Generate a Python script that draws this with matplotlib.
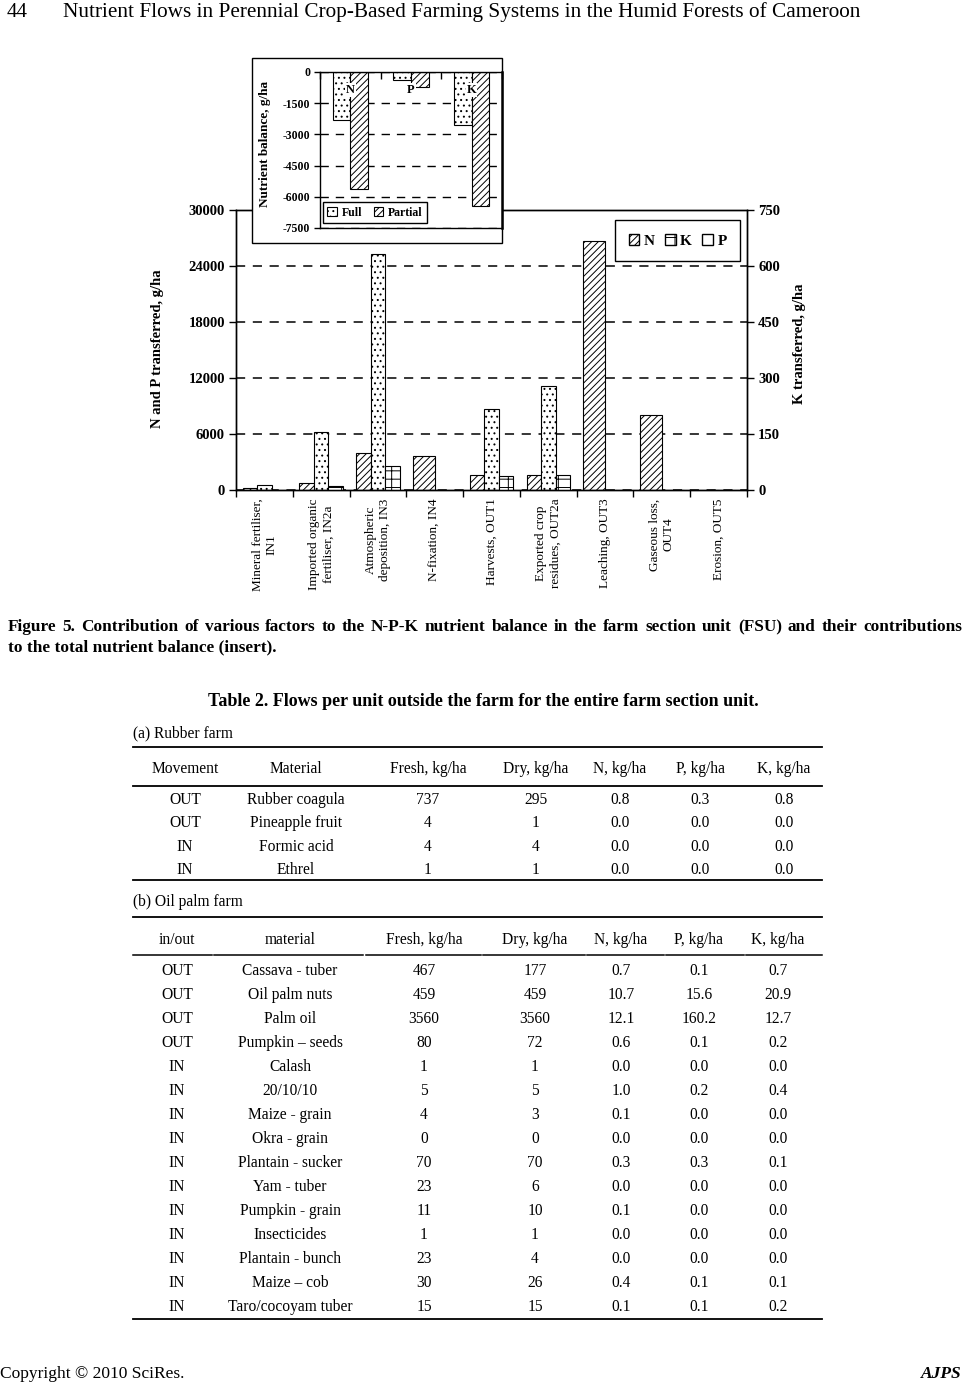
import matplotlib

matplotlib.use("Agg")
import matplotlib.pyplot as plt
import numpy as np
from matplotlib.lines import Line2D
from matplotlib.patches import Patch, Rectangle

W, H = 965, 1386

# Figure 5 - nutrient flows in the farm section unit, g/ha
categories = [
    "Mineral fertiliser,\nIN1",
    "Imported organic\nfertiliser, IN2a",
    "Atmospheric\ndeposition, IN3",
    "N-fixation, IN4",
    "Harvests, OUT1",
    "Exported crop\nresidues, OUT2a",
    "Leaching, OUT3",
    "Gaseous loss,\nOUT4",
    "Erosion, OUT5",
]
n_flow = [240, 780, 3940, 3620, 1620, 1620, 26720, 8030, 0]
p_flow = [530, 6260, 25250, 0, 8660, 11090, 0, 0, 0]
k_flow = [0, 10.5, 64, 0, 38, 40, 0, 0, 0]

left_ticks = [0, 6000, 12000, 18000, 24000, 30000]
right_ticks = [0, 150, 300, 450, 600, 750]

# insert: total nutrient balance, g/ha
balance_nutrients = ["N", "P", "K"]
balance_full = [-2300, -370, -2560]
balance_partial = [-5630, -730, -6420]
balance_ticks = [0, -1500, -3000, -4500, -6000, -7500]

# Table 2
table_a_header = ["Movement", "Material", "Fresh, kg/ha", "Dry, kg/ha",
                  "N, kg/ha", "P, kg/ha", "K, kg/ha"]
table_a_rows = [
    ["OUT", "Rubber coagula", "737", "295", "0.8", "0.3", "0.8"],
    ["OUT", "Pineapple fruit", "4", "1", "0.0", "0.0", "0.0"],
    ["IN", "Formic acid", "4", "4", "0.0", "0.0", "0.0"],
    ["IN", "Ethrel", "1", "1", "0.0", "0.0", "0.0"],
]
table_b_header = ["in/out", "material", "Fresh, kg/ha", "Dry, kg/ha",
                  "N, kg/ha", "P, kg/ha", "K, kg/ha"]
table_b_rows = [
    ["OUT", "Cassava - tuber", "467", "177", "0.7", "0.1", "0.7"],
    ["OUT", "Oil palm nuts", "459", "459", "10.7", "15.6", "20.9"],
    ["OUT", "Palm oil", "3560", "3560", "12.1", "160.2", "12.7"],
    ["OUT", "Pumpkin \u2013 seeds", "80", "72", "0.6", "0.1", "0.2"],
    ["IN", "Calash", "1", "1", "0.0", "0.0", "0.0"],
    ["IN", "20/10/10", "5", "5", "1.0", "0.2", "0.4"],
    ["IN", "Maize - grain", "4", "3", "0.1", "0.0", "0.0"],
    ["IN", "Okra - grain", "0", "0", "0.0", "0.0", "0.0"],
    ["IN", "Plantain - sucker", "70", "70", "0.3", "0.3", "0.1"],
    ["IN", "Yam - tuber", "23", "6", "0.0", "0.0", "0.0"],
    ["IN", "Pumpkin - grain", "11", "10", "0.1", "0.0", "0.0"],
    ["IN", "Insecticides", "1", "1", "0.0", "0.0", "0.0"],
    ["IN", "Plantain - bunch", "23", "4", "0.0", "0.0", "0.0"],
    ["IN", "Maize \u2013 cob", "30", "26", "0.4", "0.1", "0.1"],
    ["IN", "Taro/cocoyam tuber", "15", "15", "0.1", "0.1", "0.2"],
]

plt.rcParams["font.family"] = ["Liberation Serif", "DejaVu Serif"]
plt.rcParams["hatch.linewidth"] = 0.7
plt.rcParams["axes.unicode_minus"] = False


def fx(x):
    return x / W


def fy(y):
    return 1 - y / H


def hline(fig, x0, x1, y, lw=1.0):
    fig.add_artist(Line2D([fx(x0), fx(x1)], [fy(y), fy(y)], color="black",
                          lw=lw, transform=fig.transFigure))


def cell(fig, x, y, txt, ha="center", **kw):
    fig.text(fx(x), fy(y), txt, ha=ha, va="center_baseline", **kw)


def justified(fig, text, x0, x1, y, **kw):
    words = text.split()
    arts = [fig.text(0, fy(y), w, va="center_baseline", ha="left", **kw)
            for w in words]
    r = fig.canvas.get_renderer()
    widths = [a.get_window_extent(r).width for a in arts]
    gap = (x1 - x0 - sum(widths)) / (len(words) - 1)
    x = x0
    for a, w in zip(arts, widths):
        a.set_x(fx(x))
        x += w + gap


fig = plt.figure(figsize=(W / 100, H / 100), dpi=100)

# ---- main chart ----
ax = fig.add_axes([fx(236), fy(490), (747 - 236) / W, (490 - 210) / H])
ax2 = ax.twinx()
ax2.set_zorder(1)

bw = 0.255
xc = np.arange(len(categories)) + 0.5
solo = [p == 0 and k == 0 for p, k in zip(p_flow, k_flow)]
n_width = [bw * 1.5 if s else bw for s in solo]
ax.bar(xc - 1.5 * bw, n_flow, width=n_width, align="edge", facecolor="white",
       edgecolor="black", hatch="/////", lw=0.8, zorder=2)
ax.bar(xc - 0.5 * bw, p_flow, width=bw, align="edge", facecolor="white",
       edgecolor="black", hatch="...", lw=0.8, zorder=2)
ax2.bar(xc + 0.5 * bw, k_flow, width=bw, align="edge", facecolor="white",
        edgecolor="black", hatch="-+", lw=0.8, zorder=2)

ax.set_xlim(0, len(categories))
ax.set_ylim(0, 30000)
ax2.set_ylim(0, 750)
ax.set_yticks(left_ticks)
ax2.set_yticks(right_ticks)
ax.set_xticks(range(len(categories) + 1))
ax.set_xticklabels([])
ax.set_xticks(xc, categories, minor=True)
ax.tick_params(axis="x", which="major", direction="out", length=5, width=1)
ax.tick_params(axis="x", which="minor", length=0, pad=6, labelsize=9.5,
               labelrotation=90)
for t in ax.get_xticklabels(minor=True):
    t.set_multialignment("center")
    t.set_linespacing(1.25)
ax.tick_params(axis="y", direction="out", length=5, width=1, labelsize=10.5, pad=3)
ax2.tick_params(axis="y", direction="out", length=5, width=1, labelsize=10.5, pad=3)
for t in ax.get_yticklabels() + ax2.get_yticklabels():
    t.set_fontweight("bold")
ax.yaxis.grid(True, color="black", lw=1.1, ls=(0, (6, 5)))
ax.set_axisbelow(True)
for a in (ax, ax2):
    for s in a.spines.values():
        s.set_linewidth(1.0)

fig.text(fx(158), fy(349), "N and P transferred, g/ha", rotation=90,
         ha="center", va="center", fontsize=10.5, fontweight="bold")
fig.text(fx(800), fy(344), "K transferred, g/ha", rotation=90,
         ha="center", va="center", fontsize=10.5, fontweight="bold")

handles = [
    Patch(facecolor="white", edgecolor="black", hatch="/////", label="N"),
    Patch(facecolor="white", edgecolor="black", hatch="-+", label="K"),
    Patch(facecolor="white", edgecolor="black", label="P"),
]
leg = ax2.legend(handles=handles, ncol=3, loc="upper right",
                 bbox_to_anchor=(0.987, 0.964), frameon=True, fancybox=False,
                 edgecolor="black", framealpha=1, borderaxespad=0,
                 prop={"weight": "bold", "size": 11}, handlelength=0.7,
                 handleheight=0.7, handletextpad=0.3, columnspacing=0.65,
                 borderpad=0.9)
leg.get_frame().set_linewidth(1.0)

# ---- insert: nutrient balance ----
fig.add_artist(Rectangle((fx(252), fy(243)), (502 - 252) / W, (243 - 58) / H,
                         transform=fig.transFigure, facecolor="white",
                         edgecolor="black", lw=1.0, zorder=2))
axi = fig.add_axes([fx(320), fy(228), (502 - 320) / W, (228 - 72) / H], zorder=3)
wi = 0.29
xi = np.arange(len(balance_nutrients))
axi.bar(xi - wi / 2, balance_full, wi, facecolor="white", edgecolor="black",
        hatch="...", lw=0.8, zorder=2, label="Full")
axi.bar(xi + wi / 2, balance_partial, wi, facecolor="white", edgecolor="black",
        hatch="/////", lw=0.8, zorder=2, label="Partial")
for i, name in enumerate(balance_nutrients):
    axi.text(i, -870, name, ha="center", va="center", fontsize=9,
             fontweight="bold", zorder=3,
             bbox=dict(facecolor="white", edgecolor="none", pad=0.6))
axi.set_xlim(-0.5, len(balance_nutrients) - 0.5)
axi.set_ylim(-7500, 0)
axi.set_yticks(balance_ticks)
axi.xaxis.set_ticks_position("top")
axi.set_xticks(np.arange(len(balance_nutrients) + 1) - 0.5)
axi.set_xticklabels([])
axi.tick_params(axis="x", direction="in", length=5, width=1)
axi.tick_params(axis="y", direction="out", length=4, width=1, labelsize=8.5, pad=3)
for t in axi.get_yticklabels():
    t.set_fontweight("bold")
axi.yaxis.grid(True, color="black", lw=1.0, ls=(0, (6, 5)))
axi.set_axisbelow(True)
for s in axi.spines.values():
    s.set_linewidth(1.0)
axi.spines["right"].set_linewidth(1.8)
ileg = axi.legend(ncol=2, loc="lower left", bbox_to_anchor=(0.015, 0.03),
                  frameon=True, fancybox=False, edgecolor="black", framealpha=1,
                  borderaxespad=0, prop={"weight": "bold", "size": 8.5},
                  handlelength=0.8, handleheight=0.8, handletextpad=0.4,
                  columnspacing=1.0, borderpad=0.4)
ileg.get_frame().set_linewidth(1.0)
fig.text(fx(265), fy(144), "Nutrient balance, g/ha", rotation=90, ha="center",
         va="center", fontsize=9.5, fontweight="bold", zorder=4)

# ---- page text ----
cell(fig, 7, 10, "44", ha="left", fontsize=15)
cell(fig, 462, 10, "Nutrient Flows in Perennial Crop-Based Farming Systems "
     "in the Humid Forests of Cameroon", fontsize=15.3)

justified(fig, "Figure 5. Contribution of various factors to the N-P-K nutrient "
          "balance in the farm section unit (FSU) and their contributions",
          8, 962, 625, fontsize=12.4, fontweight="bold")
cell(fig, 8, 645, "to the total nutrient balance (insert).", ha="left",
     fontsize=12.4, fontweight="bold")
cell(fig, 483, 700, "Table 2. Flows per unit outside the farm for the "
     "entire farm section unit.", fontsize=13, fontweight="bold")

# table (a)
cols_a = [185, 296, 428, 536, 620, 700, 784]
cell(fig, 133, 731, "(a) Rubber farm", ha="left", fontsize=11.2)
hline(fig, 133, 822, 747, lw=1.3)
for x, txt in zip(cols_a, table_a_header):
    cell(fig, x, 767, txt, fontsize=11.2)
hline(fig, 133, 822, 786, lw=1.3)
for r, row in enumerate(table_a_rows):
    for x, txt in zip(cols_a, row):
        cell(fig, x, 798 + 23.4 * r, txt, fontsize=11.2)
hline(fig, 133, 822, 880, lw=1.3)

# table (b)
cols_b = [177, 290, 424, 535, 621, 699, 778]
segs_b = [(133, 212), (214, 363), (366, 481), (483, 585), (587, 664),
          (666, 744), (746, 822)]
cell(fig, 133, 900, "(b) Oil palm farm", ha="left", fontsize=11.2)
hline(fig, 133, 822, 917, lw=1.3)
for x, txt in zip(cols_b, table_b_header):
    cell(fig, x, 938, txt, fontsize=11.2)
for x0, x1 in segs_b:
    hline(fig, x0, x1, 955, lw=1.1)
for r, row in enumerate(table_b_rows):
    for x, txt in zip(cols_b, row):
        cell(fig, x, 969 + 24.0 * r, txt, fontsize=11.2)
hline(fig, 133, 822, 1319, lw=1.3)

cell(fig, 0, 1372, "Copyright \u00a9 2010 SciRes.", ha="left", fontsize=12.5)
cell(fig, 962, 1372, "AJPS", ha="right", fontsize=12.5, fontweight="bold",
     fontstyle="italic")

fig.savefig("out.png", dpi=100)
